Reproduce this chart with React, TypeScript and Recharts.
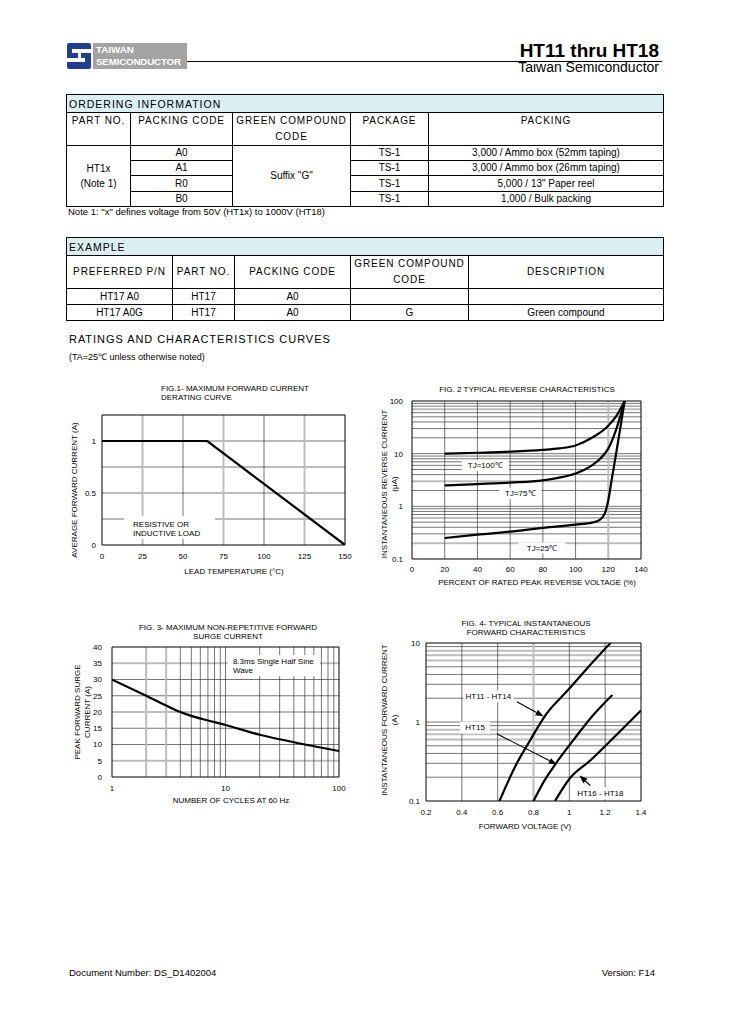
import React from 'react';
import { LineChart, Line, XAxis, YAxis, ReferenceLine, ReferenceDot } from 'recharts';

const FONT = '"Liberation Sans", Arial, Helvetica, sans-serif';

// ---------------- Fig.1 data ----------------
const fig1Temp = [0, 65, 150];
const fig1Current = [1, 1, 0];
const fig1XTicks = [0, 25, 50, 75, 100, 125, 150];
const fig1YTicks = [0, 0.5, 1];
const fig1GridXBlack = [50, 100];
const fig1GridXGray = [25, 75, 125];
const fig1GridYBlack = [0.25, 0.5, 0.75, 1];

// ---------------- Fig.2 data ----------------
const fig2Tj100X = [20, 40, 60, 80, 90, 100, 110, 120, 125, 130];
const fig2Tj100Y = [10, 10.4, 10.9, 11.8, 12.6, 14.3, 20, 34, 52, 100];
const fig2Tj75X = [20, 40, 60, 80, 90, 100, 110, 115, 120, 125, 130];
const fig2Tj75Y = [2.5, 2.65, 2.82, 3.1, 3.5, 4.2, 6, 8, 12.5, 30, 100];
const fig2Tj25X = [20, 40, 60, 80, 100, 110, 115, 118, 120, 122, 125, 128, 130];
const fig2Tj25Y = [0.25, 0.29, 0.33, 0.39, 0.45, 0.49, 0.56, 0.75, 1.3, 3.1, 11, 41, 100];
const fig2XTicks = [0, 20, 40, 60, 80, 100, 120, 140];
const fig2YTicks = [0.1, 1, 10, 100];
const fig2GridXBlack = [20, 40, 60, 80, 100];
const fig2GridXGray = [120];
const fig2GridYBlack = [0.3, 0.4, 0.5, 0.7, 0.8, 0.9, 1, 2, 4, 5, 6, 7, 8, 9, 10, 20, 30, 40, 50, 60, 80, 90];
const fig2GridYGray = [0.2, 0.6, 3, 70];
const fig2LabelText = ['TJ=100℃', 'TJ=75℃', 'TJ=25℃'];
const fig2LabelX = [44.8, 66.2, 79.5];
const fig2LabelY = [6.0, 1.75, 0.162];

// ---------------- Fig.3 data ----------------
const fig3Cycles = [1, 2, 3, 4, 5, 7, 10, 20, 30, 50, 100];
const fig3Current = [30, 25, 22, 20, 18.8, 17.4, 16, 13, 11.6, 10, 8];
const fig3XTicks = [1, 10, 100];
const fig3YTicks = [0, 5, 10, 15, 20, 25, 30, 35, 40];
const fig3GridXBlack = [4, 5, 6, 7, 8, 9, 10, 20, 30, 40, 50, 60, 70, 80, 90];
const fig3GridXGray = [2, 3];
const fig3GridYBlack = [10, 15, 25, 30];
const fig3GridYGray = [5, 20, 35];

// ---------------- Fig.4 data ----------------
const fig4Ht11V = [0.61, 0.7, 0.78, 0.87, 0.99, 1.1, 1.23];
const fig4Ht11I = [0.1, 0.28, 0.58, 1.25, 2.5, 4.8, 10];
const fig4Ht15V = [0.8, 0.86, 0.93, 1.02, 1.13, 1.24];
const fig4Ht15I = [0.1, 0.18, 0.31, 0.58, 1.2, 2.2];
const fig4Ht16V = [0.92, 1.0, 1.12, 1.25, 1.4];
const fig4Ht16I = [0.1, 0.19, 0.33, 0.64, 1.4];
const fig4XTicks = [0.2, 0.4, 0.6, 0.8, 1, 1.2, 1.4];
const fig4YTicks = [0.1, 1, 10];
const fig4GridXBlack = [0.4, 0.6, 1, 1.2];
const fig4GridXGray = [0.8];
const fig4GridYBlack = [0.2, 0.3, 0.4, 0.5, 0.9, 1, 2, 3, 4, 5, 9];
const fig4GridYGray = [0.6, 0.7, 0.8, 6, 7, 8];
const fig4LabelText = ['HT11 - HT14', 'HT15', 'HT16 - HT18'];
const fig4LabelV = [0.548, 0.474, 1.173];
const fig4LabelI = [2.12, 0.85, 0.125];
const fig4ArrowFromV = [0.707, 0.595, 1.117];
const fig4ArrowFromI = [1.8, 0.71, 0.157];
const fig4ArrowToV = [0.856, 0.93, 1.057];
const fig4ArrowToI = [1.18, 0.29, 0.21];

const zip = (xs: number[], ys: number[]) => xs.map((x, i) => ({ x, y: ys[i] }));

const GRAY = '#bcbcbc';
const DARK = '#3a3a3a';
const tickStyle = { fontSize: 8, fill: '#000', fontFamily: FONT };

// --------- svg helpers ---------
function AxisTitle(props: any) {
  const { px, py, lines, rot, gap } = props;
  return (
    <text
      x={px}
      y={py}
      transform={rot ? `rotate(-90 ${px} ${py})` : undefined}
      textAnchor="middle"
      fontSize={8}
      fontFamily={FONT}
      fill="#000"
    >
      {lines.map((l: string, i: number) => (
        <tspan key={i} x={px} dy={i === 0 ? '0.35em' : gap}>
          {l}
        </tspan>
      ))}
    </text>
  );
}

const centerBox = (text: string, w: number, h: number) => (p: any) => (
  <g>
    <rect x={p.cx - w / 2} y={p.cy - h / 2} width={w} height={h} fill="#fff" />
    <text x={p.cx} y={p.cy} dy="0.35em" textAnchor="middle" fontSize={8} fontFamily={FONT} fill="#000">
      {text}
    </text>
  </g>
);

const cornerBox = (lines: string[], w: number, h: number, padX: number, firstY: number, lineH: number) => (p: any) => (
  <g>
    <rect x={p.cx} y={p.cy} width={w} height={h} fill="#fff" />
    {lines.map((l, i) => (
      <text key={i} x={p.cx + padX} y={p.cy + firstY + i * lineH} dy="0.35em" fontSize={8} fontFamily={FONT} fill="#000">
        {l}
      </text>
    ))}
  </g>
);

const arrowShape = (p: any) => {
  const { x1, y1, x2, y2 } = p;
  const a = Math.atan2(y2 - y1, x2 - x1);
  const L = 8;
  const W = 3;
  const bx = x2 - L * Math.cos(a);
  const by = y2 - L * Math.sin(a);
  const pts = `${x2},${y2} ${bx + W * Math.sin(a)},${by - W * Math.cos(a)} ${bx - W * Math.sin(a)},${by + W * Math.cos(a)}`;
  return (
    <g>
      <line x1={x1} y1={y1} x2={bx} y2={by} stroke="#000" strokeWidth={1.1} />
      <polygon points={pts} fill="#000" />
    </g>
  );
};

const vLines = (vals: number[], color: string, w: number, k: string) =>
  vals.map((v) => <ReferenceLine key={k + v} x={v} stroke={color} strokeWidth={w} />);
const hLines = (vals: number[], color: string, w: number, k: string) =>
  vals.map((v) => <ReferenceLine key={k + v} y={v} stroke={color} strokeWidth={w} />);
const frame = (x0: number, x1: number, y0: number, y1: number) => [
  <ReferenceLine key="fx0" x={x0} stroke="#000" strokeWidth={1} />,
  <ReferenceLine key="fx1" x={x1} stroke="#000" strokeWidth={1} />,
  <ReferenceLine key="fy0" y={y0} stroke="#000" strokeWidth={1} />,
  <ReferenceLine key="fy1" y={y1} stroke="#000" strokeWidth={1} />,
];

// --------- charts ---------
function Fig1() {
  const data = zip(fig1Temp, fig1Current);
  return (
    <div style={{ position: 'absolute', left: 60, top: 395 }}>
      <LineChart width={295} height={185} margin={{ top: 20, right: 10, bottom: 0, left: 0 }}>
        <XAxis type="number" dataKey="x" domain={[0, 150]} ticks={fig1XTicks} interval={0} allowDataOverflow
          axisLine={false} tickLine={false} tickSize={0} tickMargin={8} height={35} tick={tickStyle}
          label={<AxisTitle px={174} py={176} lines={['LEAD TEMPERATURE (\u00B0C)']} />} />
        <YAxis type="number" domain={[0, 1.25]} ticks={fig1YTicks} interval={0} allowDataOverflow width={42}
          axisLine={false} tickLine={false} tickSize={0} tickMargin={6} tick={tickStyle}
          label={<AxisTitle px={14} py={95} rot lines={['AVERAGE FORWARD CURRENT (A)']} />} />
        {hLines(fig1GridYBlack, DARK, 0.7, 'hb')}
        {vLines(fig1GridXBlack, DARK, 0.7, 'vb')}
        {vLines(fig1GridXGray, GRAY, 2, 'vg')}
        {frame(0, 150, 0, 1.25)}
        <ReferenceDot x={13.6} y={0.279} r={0} shape={cornerBox(['RESISTIVE OR', 'INDUCTIVE LOAD'], 91, 23, 9, 8, 9)} />
        <Line data={data} dataKey="y" type="linear" stroke="#000" strokeWidth={2.2} dot={false} isAnimationActive={false} />
      </LineChart>
    </div>
  );
}

function Fig2() {
  const s100 = zip(fig2Tj100X, fig2Tj100Y);
  const s75 = zip(fig2Tj75X, fig2Tj75Y);
  const s25 = zip(fig2Tj25X, fig2Tj25Y);
  return (
    <div style={{ position: 'absolute', left: 370, top: 391 }}>
      <LineChart width={280} height={203} margin={{ top: 10, right: 9, bottom: 0, left: 0 }}>
        <XAxis type="number" dataKey="x" domain={[0, 140]} ticks={fig2XTicks} interval={0} allowDataOverflow
          axisLine={false} tickLine={false} tickSize={0} tickMargin={7} height={35} tick={tickStyle}
          label={<AxisTitle px={167} py={191} lines={['PERCENT OF RATED PEAK REVERSE VOLTAGE (%)']} />} />
        <YAxis type="number" scale="log" domain={[0.1, 100]} ticks={fig2YTicks} interval={0} allowDataOverflow width={42}
          axisLine={false} tickLine={false} tickSize={0} tickMargin={9} tick={tickStyle} tickFormatter={(v: number) => String(v)}
          label={<AxisTitle px={14} py={93} rot gap={10} lines={['INSTANTANEOUS  REVERSE CURRENT', '(\u03BCA)']} />} />
        {hLines(fig2GridYBlack, DARK, 0.7, 'hb')}
        {hLines(fig2GridYGray, GRAY, 2, 'hg')}
        {vLines(fig2GridXBlack, DARK, 0.7, 'vb')}
        {vLines(fig2GridXGray, GRAY, 2, 'vg')}
        {frame(0, 140, 0.1, 100)}
        {fig2LabelText.map((t, i) => (
          <ReferenceDot key={t} x={fig2LabelX[i]} y={fig2LabelY[i]} r={0} shape={centerBox(t, i === 1 ? 42 : 47, 11)} />
        ))}
        <Line data={s100} dataKey="y" type="monotone" stroke="#000" strokeWidth={2.2} dot={false} isAnimationActive={false} />
        <Line data={s75} dataKey="y" type="monotone" stroke="#000" strokeWidth={2.2} dot={false} isAnimationActive={false} />
        <Line data={s25} dataKey="y" type="monotone" stroke="#000" strokeWidth={2.2} dot={false} isAnimationActive={false} />
      </LineChart>
    </div>
  );
}

function Fig3() {
  const data = zip(fig3Cycles, fig3Current);
  return (
    <div style={{ position: 'absolute', left: 60, top: 637 }}>
      <LineChart width={289} height={175} margin={{ top: 10, right: 10, bottom: 0, left: 0 }}>
        <XAxis type="number" dataKey="x" scale="log" domain={[1, 100]} ticks={fig3XTicks} interval={0} allowDataOverflow
          axisLine={false} tickLine={false} tickSize={0} tickMargin={8} height={35} tick={tickStyle}
          label={<AxisTitle px={171} py={163} lines={['NUMBER OF CYCLES AT 60 Hz']} />} />
        <YAxis type="number" domain={[0, 40]} ticks={fig3YTicks} interval={0} allowDataOverflow width={52}
          axisLine={false} tickLine={false} tickSize={0} tickMargin={10} tick={tickStyle}
          label={<AxisTitle px={17} py={75} rot gap={10.5} lines={['PEAK FORWARD SURGE', 'CURRENT (A)']} />} />
        {hLines(fig3GridYBlack, DARK, 0.7, 'hb')}
        {hLines(fig3GridYGray, GRAY, 2, 'hg')}
        {vLines(fig3GridXBlack, DARK, 0.7, 'vb')}
        {vLines(fig3GridXGray, GRAY, 2, 'vg')}
        {frame(1, 100, 0, 40)}
        <ReferenceDot x={10.5} y={37.5} r={0} shape={cornerBox(['8.3ms Single Half Sine', 'Wave'], 92, 21, 5, 6, 9)} />
        <Line data={data} dataKey="y" type="monotone" stroke="#000" strokeWidth={2.2} dot={false} isAnimationActive={false} />
      </LineChart>
    </div>
  );
}

function Fig4() {
  const a = zip(fig4Ht11V, fig4Ht11I);
  const b = zip(fig4Ht15V, fig4Ht15I);
  const c = zip(fig4Ht16V, fig4Ht16I);
  return (
    <div style={{ position: 'absolute', left: 370, top: 633 }}>
      <LineChart width={280} height={208} margin={{ top: 10, right: 9, bottom: 0, left: 0 }}>
        <XAxis type="number" dataKey="x" domain={[0.2, 1.4]} ticks={fig4XTicks} interval={0} allowDataOverflow
          axisLine={false} tickLine={false} tickSize={0} tickMargin={8} height={40} tick={tickStyle}
          tickFormatter={(v: number) => String(v)}
          label={<AxisTitle px={155} py={193} lines={['FORWARD VOLTAGE (V)']} />} />
        <YAxis type="number" scale="log" domain={[0.1, 10]} ticks={fig4YTicks} interval={0} allowDataOverflow width={56}
          axisLine={false} tickLine={false} tickSize={0} tickMargin={6} tick={tickStyle} tickFormatter={(v: number) => String(v)}
          label={<AxisTitle px={14} py={87} rot gap={10} lines={['INSTANTANEOUS  FORWARD CURRENT', '(A)']} />} />
        {hLines(fig4GridYBlack, DARK, 0.7, 'hb')}
        {hLines(fig4GridYGray, GRAY, 2, 'hg')}
        {vLines(fig4GridXBlack, DARK, 0.7, 'vb')}
        {vLines(fig4GridXGray, GRAY, 2, 'vg')}
        {frame(0.2, 1.4, 0.1, 10)}
        {fig4LabelText.map((t, i) => (
          <ReferenceDot key={t} x={fig4LabelV[i]} y={fig4LabelI[i]} r={0} shape={centerBox(t, i === 1 ? 30 : 50, 12)} />
        ))}
        {fig4LabelText.map((t, i) => (
          <ReferenceLine key={'ar' + t}
            segment={[{ x: fig4ArrowFromV[i], y: fig4ArrowFromI[i] }, { x: fig4ArrowToV[i], y: fig4ArrowToI[i] }]}
            shape={arrowShape} />
        ))}
        <Line data={a} dataKey="y" type="monotone" stroke="#000" strokeWidth={2.2} dot={false} isAnimationActive={false} />
        <Line data={b} dataKey="y" type="monotone" stroke="#000" strokeWidth={2.2} dot={false} isAnimationActive={false} />
        <Line data={c} dataKey="y" type="monotone" stroke="#000" strokeWidth={2.2} dot={false} isAnimationActive={false} />
      </LineChart>
    </div>
  );
}

// --------- page text helpers ---------
function Txt({ x, y, size = 9, children, right, center, w = 300, style }: any) {
  const lh = size * 1.2;
  const base: React.CSSProperties = {
    position: 'absolute',
    top: y - lh / 2,
    fontSize: size,
    lineHeight: `${lh}px`,
    whiteSpace: 'nowrap',
  };
  if (right) Object.assign(base, { right: 729 - x, textAlign: 'right' });
  else if (center) Object.assign(base, { left: x - w / 2, width: w, textAlign: 'center' });
  else Object.assign(base, { left: x });
  return <div style={{ ...base, ...style }}>{children}</div>;
}

const cellB = '1px solid #000';
const th: React.CSSProperties = { border: cellB, fontWeight: 'normal', fontSize: 10, letterSpacing: 0.9, padding: 0, textAlign: 'center', lineHeight: '16px' };
const td: React.CSSProperties = { border: cellB, fontSize: 10, padding: 0, textAlign: 'center', lineHeight: '12px' };
const titleCell: React.CSSProperties = { border: cellB, background: '#dbeef3', fontSize: 10.5, letterSpacing: 1, padding: '0 0 0 2px', textAlign: 'left', lineHeight: '16px', fontWeight: 'normal' };

function OrderingTable() {
  return (
    <table style={{ position: 'absolute', left: 66, top: 94, width: 597, borderCollapse: 'collapse', tableLayout: 'fixed', fontFamily: FONT }}>
      <colgroup>
        <col style={{ width: 64 }} />
        <col style={{ width: 102 }} />
        <col style={{ width: 118 }} />
        <col style={{ width: 78 }} />
        <col style={{ width: 235 }} />
      </colgroup>
      <tbody>
        <tr style={{ height: 18 }}>
          <td colSpan={5} style={titleCell}>ORDERING INFORMATION</td>
        </tr>
        <tr style={{ height: 31 }}>
          <th style={{ ...th, verticalAlign: 'top' }}>PART NO.</th>
          <th style={{ ...th, verticalAlign: 'top' }}>PACKING CODE</th>
          <th style={{ ...th, verticalAlign: 'top' }}>GREEN COMPOUND<br />CODE</th>
          <th style={{ ...th, verticalAlign: 'top' }}>PACKAGE</th>
          <th style={{ ...th, verticalAlign: 'top' }}>PACKING</th>
        </tr>
        <tr style={{ height: 15 }}>
          <td rowSpan={4} style={{ ...td, lineHeight: '15px' }}>HT1x<br />(Note 1)</td>
          <td style={td}>A0</td>
          <td rowSpan={4} style={td}>Suffix "G"</td>
          <td style={td}>TS-1</td>
          <td style={td}>3,000 / Ammo box (52mm taping)</td>
        </tr>
        <tr style={{ height: 15 }}>
          <td style={td}>A1</td>
          <td style={td}>TS-1</td>
          <td style={td}>3,000 / Ammo box (26mm taping)</td>
        </tr>
        <tr style={{ height: 16 }}>
          <td style={td}>R0</td>
          <td style={td}>TS-1</td>
          <td style={td}>5,000 / 13" Paper reel</td>
        </tr>
        <tr style={{ height: 15 }}>
          <td style={td}>B0</td>
          <td style={td}>TS-1</td>
          <td style={td}>1,000 / Bulk packing</td>
        </tr>
      </tbody>
    </table>
  );
}

function ExampleTable() {
  return (
    <table style={{ position: 'absolute', left: 66, top: 237, width: 597, borderCollapse: 'collapse', tableLayout: 'fixed', fontFamily: FONT }}>
      <colgroup>
        <col style={{ width: 106 }} />
        <col style={{ width: 62 }} />
        <col style={{ width: 116 }} />
        <col style={{ width: 118 }} />
        <col style={{ width: 195 }} />
      </colgroup>
      <tbody>
        <tr style={{ height: 18 }}>
          <td colSpan={5} style={titleCell}>EXAMPLE</td>
        </tr>
        <tr style={{ height: 30 }}>
          <th style={th}>PREFERRED P/N</th>
          <th style={th}>PART NO.</th>
          <th style={th}>PACKING CODE</th>
          <th style={th}>GREEN COMPOUND<br />CODE</th>
          <th style={th}>DESCRIPTION</th>
        </tr>
        <tr style={{ height: 16 }}>
          <td style={td}>HT17 A0</td>
          <td style={td}>HT17</td>
          <td style={td}>A0</td>
          <td style={td}></td>
          <td style={td}></td>
        </tr>
        <tr style={{ height: 16 }}>
          <td style={td}>HT17 A0G</td>
          <td style={td}>HT17</td>
          <td style={td}>A0</td>
          <td style={td}>G</td>
          <td style={td}>Green compound</td>
        </tr>
      </tbody>
    </table>
  );
}

function Logo() {
  return (
    <>
      <div style={{ position: 'absolute', left: 66, top: 42 }}>
        <svg width={26} height={28}>
          <rect x={1} y={1} width={24} height={26} rx={2} fill="#1f3f95" />
          <rect x={6} y={7} width={19} height={4} fill="#fff" />
          <rect x={1} y={16} width={18} height={4} fill="#fff" />
          <rect x={12} y={11} width={3} height={9} fill="#fff" />
        </svg>
      </div>
      <div style={{ position: 'absolute', left: 93, top: 43, width: 94, height: 26, background: '#a3a3a3', color: '#fff', fontWeight: 'bold', fontSize: 9.8, lineHeight: '12px', paddingLeft: 3, boxSizing: 'border-box', overflow: 'visible', whiteSpace: 'nowrap' }}>
        <div style={{ marginTop: 1 }}>TAIWAN</div>
        <div style={{ letterSpacing: -0.2 }}>SEMICONDUCTOR</div>
      </div>
    </>
  );
}

export default function App() {
  return (
    <div style={{ position: 'absolute', left: 0, top: 0, width: 729, height: 1032, background: '#fff', fontFamily: FONT, color: '#000', overflow: 'hidden' }}>
      <Logo />
      <div style={{ position: 'absolute', left: 187, top: 61, width: 475, height: 1, background: '#000' }} />
      <Txt x={659} y={51} size={19} right style={{ fontWeight: 'bold' }}>HT11 thru HT18</Txt>
      <Txt x={659} y={67} size={14} right>Taiwan Semiconductor</Txt>

      <OrderingTable />
      <Txt x={68} y={212} size={9.5}>Note 1: "x" defines voltage from 50V (HT1x) to 1000V (HT18)</Txt>
      <ExampleTable />

      <Txt x={69} y={340} size={11} style={{ letterSpacing: 0.95 }}>RATINGS AND CHARACTERISTICS CURVES</Txt>
      <Txt x={69} y={357} size={9}>(TA=25℃ unless otherwise noted)</Txt>

      <Txt x={161} y={389} size={8}>FIG.1- MAXIMUM FORWARD CURRENT</Txt>
      <Txt x={161} y={398} size={8}>DERATING CURVE</Txt>
      <Txt x={527} y={390} size={8} center>FIG. 2 TYPICAL REVERSE CHARACTERISTICS</Txt>
      <Txt x={228} y={628} size={8} center>FIG. 3- MAXIMUM NON-REPETITIVE FORWARD</Txt>
      <Txt x={228} y={637} size={8} center>SURGE CURRENT</Txt>
      <Txt x={526} y={624} size={8} center>FIG. 4- TYPICAL INSTANTANEOUS</Txt>
      <Txt x={526} y={633} size={8} center>FORWARD CHARACTERISTICS</Txt>

      <Fig1 />
      <Fig2 />
      <Fig3 />
      <Fig4 />

      <Txt x={69} y={973} size={9.5}>Document Number: DS_D1402004</Txt>
      <Txt x={655} y={973} size={9.5} right>Version: F14</Txt>
    </div>
  );
}
